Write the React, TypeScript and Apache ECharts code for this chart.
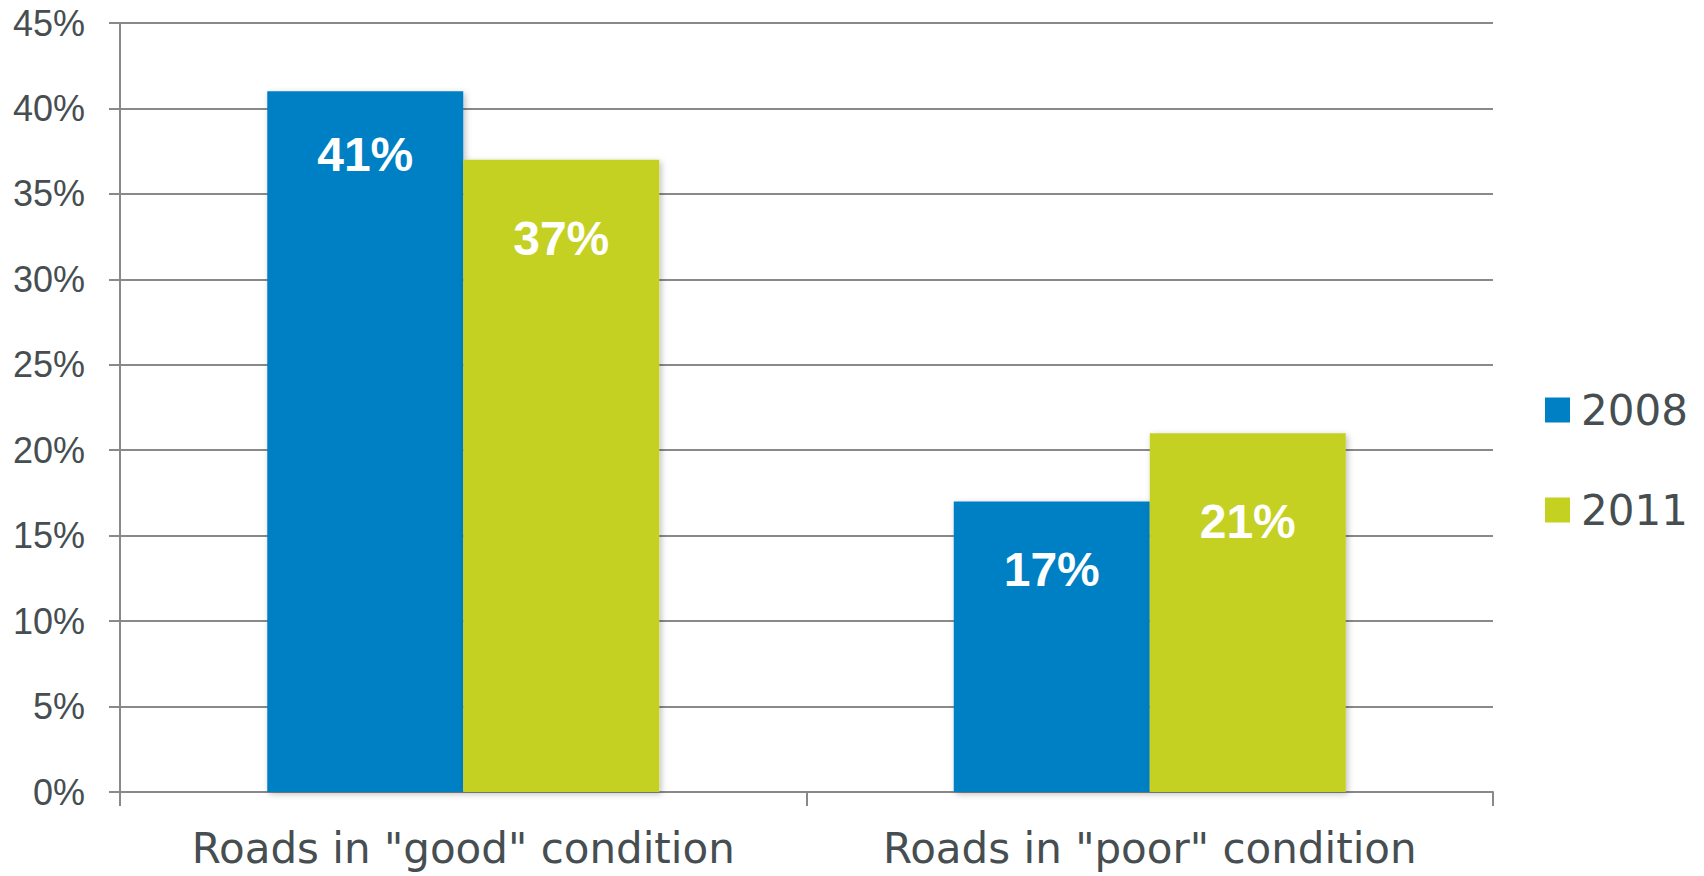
import React, { useEffect, useRef } from "react";
import * as echarts from "echarts";

const categories = ['Roads in "good" condition', 'Roads in "poor" condition'];
const seriesNames = ["2008", "2011"];
const values2008 = [41, 17];
const values2011 = [37, 21];
const labelOffsets2008 = [63, 68];
const labelOffsets2011 = [79, 88];
const yTicks = [0, 5, 10, 15, 20, 25, 30, 35, 40, 45];

const COLORS = ["#0080c4", "#c4d121"];
const TEXT = "#464e51";
const LINE = "#898989";
const FONT = "'Liberation Sans', Arial, sans-serif";
const WIDE_FONT = "'DejaVu Sans', sans-serif";

export default function App() {
  const ref = useRef<HTMLDivElement>(null);
  useEffect(() => {
    if (!ref.current) return;
    const chart = echarts.init(ref.current, null, { renderer: "svg" });
    const mkData = (vals: number[], offs: number[]) =>
      vals.map((v, i) => ({
        value: v,
        label: {
          show: true,
          position: ["50%", offs[i]],
          align: "center",
          verticalAlign: "middle",
        },
      }));
    const barStyle = (c: string) => ({
      color: c,
      shadowColor: "rgba(0,0,0,0.25)",
      shadowBlur: 6,
      shadowOffsetX: 2,
      shadowOffsetY: 2,
    });
    const label = {
      show: true,
      color: "#ffffff",
      fontSize: 48,
      fontWeight: "bold",
      fontFamily: FONT,
      formatter: "{c}%",
    };
    chart.setOption({
      animation: false,
      backgroundColor: "#ffffff",
      textStyle: { fontFamily: FONT },
      grid: { left: 120, right: 211, top: 23, bottom: 84, containLabel: false },
      legend: {
        orient: "vertical",
        left: 1545,
        top: 389,
        padding: 0,
        itemWidth: 25,
        itemHeight: 25,
        itemGap: 58,
        icon: "rect",
        data: seriesNames,
        textStyle: {
          color: TEXT,
          fontSize: 42,
          lineHeight: 42,
          fontFamily: WIDE_FONT,
          padding: [0, 0, 0, 6],
        },
      },
      xAxis: {
        type: "category",
        data: categories,
        axisLine: { show: true, lineStyle: { color: LINE, width: 2 } },
        axisTick: { show: true, interval: 0, length: 14, lineStyle: { color: LINE, width: 2 } },
        axisLabel: {
          color: TEXT,
          fontSize: 42,
          fontFamily: WIDE_FONT,
          margin: 35,
          interval: 0,
          hideOverlap: false,
        },
      },
      yAxis: {
        type: "value",
        min: 0,
        max: 45,
        interval: 5,
        axisLine: { show: true, lineStyle: { color: LINE, width: 2 } },
        axisTick: { show: true, length: 11, lineStyle: { color: LINE, width: 2 } },
        splitLine: { show: true, lineStyle: { color: LINE, width: 2 } },
        axisLabel: {
          color: TEXT,
          fontSize: 36,
          fontFamily: FONT,
          margin: 35,
          formatter: (v: number) => (yTicks.includes(v) ? v + "%" : ""),
        },
      },
      series: [
        {
          name: seriesNames[0],
          type: "bar",
          barWidth: 196,
          barGap: "0%",
          itemStyle: barStyle(COLORS[0]),
          label,
          data: mkData(values2008, labelOffsets2008),
        },
        {
          name: seriesNames[1],
          type: "bar",
          barWidth: 196,
          barGap: "0%",
          itemStyle: barStyle(COLORS[1]),
          label,
          data: mkData(values2011, labelOffsets2011),
        },
      ],
    });
    return () => chart.dispose();
  }, []);
  return (
    <div
      ref={ref}
      style={{ position: "fixed", left: 0, top: 0, width: 1704, height: 876 }}
    />
  );
}
